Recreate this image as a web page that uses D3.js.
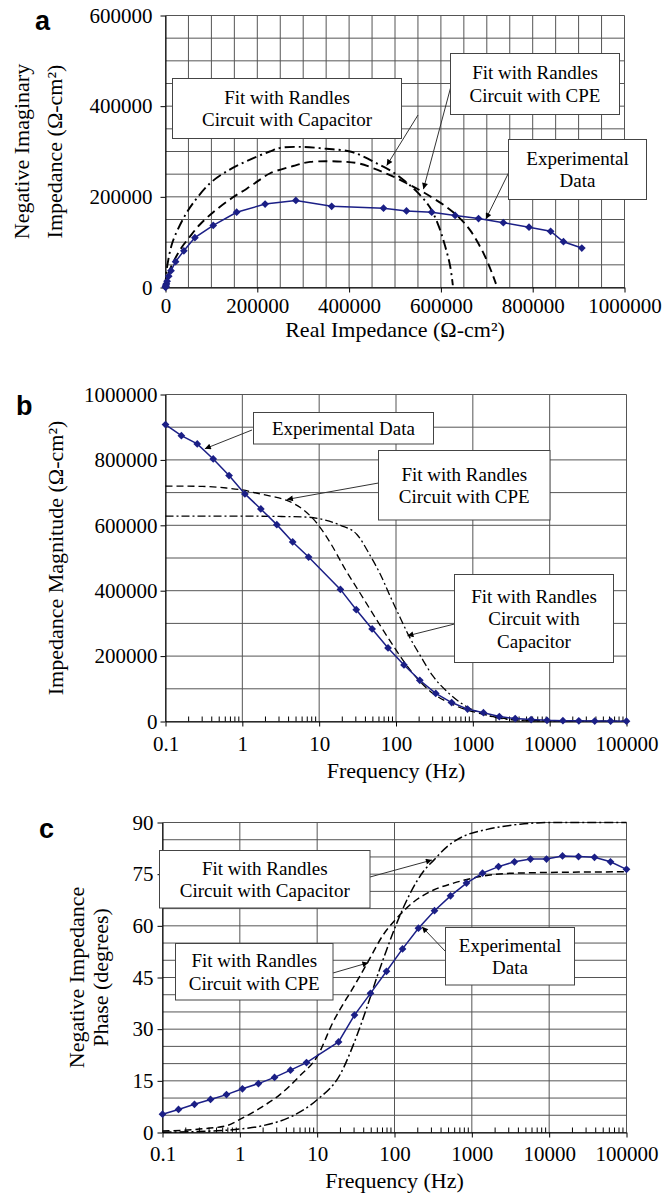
<!DOCTYPE html>
<html>
<head>
<meta charset="utf-8">
<script src="https://cdn.jsdelivr.net/npm/d3@7"></script>
<style>
  body { margin: 0; background: #fff; overflow: hidden; }
  svg text { font-family: 'Liberation Serif', 'Times New Roman', Times, serif; }
  svg text.letter { font-family: 'Liberation Sans', Arial, sans-serif; font-weight: bold; }
</style>
</head>
<body>
<svg id="chart" width="664" height="1194"></svg>
<script>
// ---- values ----

// measured frequencies (the run has no point near 11 Hz)
const freqHz = [0.1, 0.161, 0.259, 0.418, 0.672, 1.08, 1.74, 2.81, 4.52, 7.28,
  18.9, 30.4, 48.9, 78.8, 127, 204, 329, 530, 853, 1374,
  2212, 3562, 5736, 9237, 14874, 23950, 38566, 62102, 100000];

// experimental data, Nyquist (a)
const expReal = [907000, 867000, 839000, 792000, 736000, 682000, 631000, 580000, 525000, 475000,
  362000, 284000, 217000, 155000, 104000, 64000, 40000, 22000, 12000, 7000,
  3500, 2000, 1200, 700, 400, 300, 200, 200, 200];
const expImag = [87000, 101000, 124000, 133000, 143000, 152000, 159000, 166000, 169000, 175000,
  179000, 192000, 184000, 166000, 137000, 110000, 81000, 57000, 37000, 25000,
  14000, 8500, 6000, 3500, 2400, 1800, 1300, 1000, 800];

// experimental data, Bode (b, c)
const expMag = [908000, 874000, 849000, 803000, 752000, 696000, 650000, 602000, 549000, 503000,
  404000, 342000, 283000, 225000, 173000, 126000, 86000, 58000, 38000, 27000,
  15000, 9000, 6000, 3500, 2500, 2000, 1500, 1200, 1000];
const expPhase = [5.3, 6.7, 8.2, 9.6, 11.0, 12.7, 14.2, 16.0, 18.1, 20.3,
  26.3, 34.1, 40.4, 46.8, 53.3, 59.3, 64.4, 68.7, 72.4, 75.3,
  77.2, 78.6, 79.4, 79.4, 80.3, 80.1, 79.9, 78.6, 76.4];

// fit with Randles circuit with capacitor
const capReal = [0, 1000, 5000, 16000, 42000, 60000, 96000, 133000, 177000, 227000, 250000, 300000,
  351000, 402000, 431000, 460000, 490000, 520000, 547000, 576000, 595000, 609000, 620000, 626000];
const capImag = [0, 23000, 55000, 102000, 158000, 186000, 229000, 256000, 279000, 300000, 308000, 310000,
  306000, 300000, 289000, 274000, 258000, 236000, 212000, 177000, 136000, 92000, 48000, 5000];
const capMagFreq = [0.1, 1, 3, 7, 12, 19, 31, 46, 62, 84, 113, 145, 210, 300, 460, 760, 1500, 3400, 10000, 100000];
const capMag = [628000, 628000, 627000, 625000, 616000, 600000, 572000, 508000, 452000, 383000,
  318000, 265000, 199000, 140000, 92000, 51000, 20000, 5000, 1500, 500];
const capPhaseFreq = [0.1, 0.5, 1, 2, 5, 10, 20, 30, 45, 59, 79, 108, 160, 240, 320, 480, 780, 1580, 4200, 10000, 100000];
const capPhase = [0.1, 0.5, 1, 2, 5, 9.5, 17, 26, 37, 45, 53, 61, 69.5, 76, 79, 83, 86, 88, 89.5, 90, 90];

// fit with Randles circuit with CPE
const cpeReal = [0, 6000, 31000, 53000, 75000, 104000, 147000, 177000, 206000, 228000, 278000, 315000,
  395000, 424000, 453000, 489000, 525000, 562000, 613000, 642000, 664000, 686000, 700000, 712000, 720000];
const cpeImag = [0, 30000, 82000, 112000, 139000, 166000, 199000, 218000, 238000, 252000, 268000, 277000,
  277000, 273000, 263000, 248000, 230000, 210000, 177000, 152000, 126000, 89000, 60000, 30000, 8000];
const cpeMagFreq = [0.1, 0.3, 0.62, 1, 1.7, 2.5, 3.8, 6.2, 9.3, 14, 22, 34, 56, 93, 150, 200, 280, 560, 1260, 3400, 10000, 100000];
const cpeMag = [720000, 719000, 714000, 708000, 696000, 688000, 676000, 648000, 607000, 546000, 464000,
  393000, 311000, 230000, 160000, 125000, 92000, 51000, 24000, 6000, 2000, 1000];
const cpePhaseFreq = [0.1, 0.3, 0.68, 1, 1.8, 3.3, 6, 10, 16, 30, 44, 72, 102, 178, 320, 580, 1290, 3470, 100000];
const cpePhase = [0.4, 1, 2, 3.8, 7, 11, 16.5, 22, 32, 42.5, 49, 57.5, 61.7, 67, 70.4, 72.4, 74.3, 75.3, 75.7];

// tick labels
const realTicks = [0, 200000, 400000, 600000, 800000, 1000000];
const imagTicks = [0, 200000, 400000, 600000];
const freqTicks = [0.1, 1, 10, 100, 1000, 10000, 100000];
const magTicks = [0, 200000, 400000, 600000, 800000, 1000000];
const phaseTicks = [0, 15, 30, 45, 60, 75, 90];

const seriesNames = {
  cap: ['Fit with Randles', 'Circuit with Capacitor'],
  cpe: ['Fit with Randles', 'Circuit with CPE'],
  exp: ['Experimental', 'Data']
};

// ---- drawing ----
const navy = '#1b1f86';
const gridColor = '#555';

const svg = d3.select('#chart');

svg.append('defs').append('marker')
  .attr('id', 'arrow')
  .attr('viewBox', '0 0 10 10')
  .attr('refX', 10).attr('refY', 5)
  .attr('markerUnits', 'userSpaceOnUse')
  .attr('markerWidth', 8).attr('markerHeight', 6)
  .attr('orient', 'auto')
  .append('path')
  .attr('d', 'M0,0L10,5L0,10z')
  .attr('fill', '#000');

const zip = (xs, ys) => xs.map((v, i) => [v, ys[i]]);
const fmt = d => d < 1 ? String(d) : d3.format('d')(d);

function drawPanel(p) {
  const g = svg.append('g');
  const [xa, xb] = p.x.range();
  const [yb, yt] = p.y.range();

  // grid
  g.append('g').selectAll('line').data(p.xGrid).join('line')
    .attr('x1', d => p.x(d)).attr('x2', d => p.x(d))
    .attr('y1', yt).attr('y2', yb)
    .attr('stroke', gridColor).attr('stroke-width', 1);
  g.append('g').selectAll('line').data(p.yGrid).join('line')
    .attr('x1', xa).attr('x2', xb)
    .attr('y1', d => p.y(d)).attr('y2', d => p.y(d))
    .attr('stroke', gridColor).attr('stroke-width', 1);

  // small log ticks along the bottom, pointing inward
  if (p.minor) {
    const minor = [];
    freqTicks.slice(0, -1).forEach(dec => d3.range(2, 10).forEach(m => minor.push(dec * m)));
    g.append('g').selectAll('line').data(minor).join('line')
      .attr('x1', d => p.x(d)).attr('x2', d => p.x(d))
      .attr('y1', yb).attr('y2', yb - 5)
      .attr('stroke', '#000');
  }

  // axes
  const xAxis = g.append('g')
    .attr('transform', `translate(0,${yb})`)
    .call(d3.axisBottom(p.x).tickValues(p.xTicks).tickFormat(fmt)
      .tickSize(5).tickPadding(p.xPad).tickSizeOuter(0));
  const yAxis = g.append('g')
    .attr('transform', `translate(${xa},0)`)
    .call(d3.axisLeft(p.y).tickValues(p.yTicks).tickFormat(fmt)
      .tickSize(5).tickPadding(p.yPad).tickSizeOuter(0));
  [xAxis, yAxis].forEach(a => {
    a.attr('font-family', null).attr('font-size', 21);
    a.selectAll('text').attr('fill', '#000');
    a.selectAll('line, path').attr('stroke', '#000');
  });

  // series
  p.series.forEach(s => {
    const pts = zip(s.x, s.y);
    g.append('path').datum(pts)
      .attr('d', d3.line().x(d => p.x(d[0])).y(d => p.y(d[1])).curve(s.curve))
      .attr('fill', 'none')
      .attr('stroke', s.color)
      .attr('stroke-width', s.width)
      .attr('stroke-dasharray', s.dash);
    if (s.markers) {
      g.append('g').selectAll('path').data(pts).join('path')
        .attr('d', d3.symbol(d3.symbolSquare, 30))
        .attr('transform', d => `translate(${p.x(d[0])},${p.y(d[1])}) rotate(45)`)
        .attr('fill', s.color);
    }
  });

  // callouts
  p.notes.forEach(n => {
    const [bx, by, bw, bh] = n.box;
    g.append('line')
      .attr('x1', n.from[0]).attr('y1', n.from[1])
      .attr('x2', p.x(n.to[0])).attr('y2', p.y(n.to[1]))
      .attr('stroke', '#333').attr('stroke-width', 1)
      .attr('marker-end', 'url(#arrow)');
    g.append('rect')
      .attr('x', bx).attr('y', by).attr('width', bw).attr('height', bh)
      .attr('fill', '#fff').attr('stroke', '#444').attr('stroke-width', 1);
    const step = 22.5;
    const top = by + bh / 2 - (n.lines.length - 1) * step / 2;
    g.append('text')
      .attr('font-size', 19)
      .attr('text-anchor', 'middle')
      .selectAll('tspan').data(n.lines).join('tspan')
      .attr('x', bx + bw / 2)
      .attr('y', (d, i) => top + i * step + 6.5)
      .text(d => d);
  });

  // titles
  g.append('text')
    .attr('x', (xa + xb) / 2).attr('y', p.xTitleY)
    .attr('text-anchor', 'middle')
    .attr('font-size', 22)
    .text(p.xTitle);
  p.yTitle.forEach((t, i) => {
    g.append('text')
      .attr('transform', `translate(${p.yTitleX[i]},${(yb + yt) / 2}) rotate(-90)`)
      .attr('text-anchor', 'middle')
      .attr('font-size', 22)
      .text(t);
  });
  g.append('text')
    .attr('class', 'letter')
    .attr('x', p.letter[0]).attr('y', p.letter[1])
    .attr('font-size', 27)
    .text(p.name);
}

// a: Nyquist
const xA = d3.scaleLinear().domain([0, 1000000]).range([165.5, 624.5]);
const yA = d3.scaleLinear().domain([0, 600000]).range([287.5, 15.5]);
drawPanel({
  name: 'a', letter: [35, 30],
  x: xA, y: yA,
  xGrid: d3.range(0, 1000001, 50000), yGrid: d3.range(0, 600001, 50000),
  xTicks: realTicks, yTicks: imagTicks, xPad: 6, yPad: 8,
  xTitle: 'Real Impedance (Ω-cm²)', xTitleY: 337,
  yTitle: ['Negative Imaginary', 'Impedance (Ω-cm²)'], yTitleX: [29, 62],
  series: [
    { x: capReal, y: capImag, color: '#000', width: 1.9, dash: '10,4,2,4', curve: d3.curveCatmullRom },
    { x: cpeReal, y: cpeImag, color: '#000', width: 1.9, dash: '9,5', curve: d3.curveCatmullRom },
    { x: expReal, y: expImag, color: navy, width: 1.5, curve: d3.curveLinear, markers: true }
  ],
  notes: [
    { lines: seriesNames.cap, box: [172.5, 78.5, 229, 60], from: [418, 115], to: [482000, 269000] },
    { lines: seriesNames.cpe, box: [450.5, 53.5, 169, 61], from: [450.5, 88], to: [562000, 217000] },
    { lines: seriesNames.exp, box: [508.5, 139.5, 138, 60], from: [508.5, 173], to: [698000, 151000] }
  ]
});

// b: impedance magnitude
const xB = d3.scaleLog().domain([0.1, 100000]).range([165.5, 626.5]);
const yB = d3.scaleLinear().domain([0, 1000000]).range([721.5, 394.5]);
drawPanel({
  name: 'b', letter: [16, 415],
  x: xB, y: yB, minor: true,
  xGrid: freqTicks, yGrid: d3.range(0, 1000001, 100000),
  xTicks: freqTicks, yTicks: magTicks, xPad: 10, yPad: 3,
  xTitle: 'Frequency (Hz)', xTitleY: 778,
  yTitle: ['Impedance Magnitude (Ω-cm²)'], yTitleX: [63],
  series: [
    { x: capMagFreq, y: capMag, color: '#000', width: 1.3, dash: '8,3,2,3', curve: d3.curveMonotoneX },
    { x: cpeMagFreq, y: cpeMag, color: '#000', width: 1.3, dash: '7,4', curve: d3.curveMonotoneX },
    { x: freqHz, y: expMag, color: navy, width: 1.5, curve: d3.curveLinear, markers: true }
  ],
  notes: [
    { lines: ['Experimental Data'], box: [253.5, 412.5, 180, 31.5], from: [252, 430], to: [0.325, 834000] },
    { lines: seriesNames.cpe, box: [378.5, 450.5, 171.5, 69.5], from: [378.5, 483], to: [3.8, 679000] },
    { lines: ['Fit with Randles', 'Circuit with', 'Capacitor'], box: [454.5, 574.5, 159, 88], from: [454.5, 624], to: [141, 262000] }
  ]
});

// c: phase
const xC = d3.scaleLog().domain([0.1, 100000]).range([162.5, 626.5]);
const yC = d3.scaleLinear().domain([0, 90]).range([1132.5, 822.5]);
drawPanel({
  name: 'c', letter: [39, 838],
  x: xC, y: yC, minor: true,
  xGrid: freqTicks, yGrid: d3.range(0, 91, 5),
  xTicks: freqTicks, yTicks: phaseTicks, xPad: 9, yPad: 4,
  xTitle: 'Frequency (Hz)', xTitleY: 1188,
  yTitle: ['Negative Impedance', 'Phase (degrees)'], yTitleX: [84, 108],
  series: [
    { x: capPhaseFreq, y: capPhase, color: '#000', width: 1.5, dash: '9,3,2,3', curve: d3.curveMonotoneX },
    { x: cpePhaseFreq, y: cpePhase, color: '#000', width: 1.5, dash: '7,4', curve: d3.curveMonotoneX },
    { x: freqHz, y: expPhase, color: navy, width: 1.5, curve: d3.curveLinear, markers: true }
  ],
  notes: [
    { lines: seriesNames.cap, box: [159.5, 850.5, 210.5, 57.5], from: [370, 877], to: [305, 79.1] },
    { lines: seriesNames.cpe, box: [175.5, 943.5, 157.5, 56.5], from: [333, 973], to: [46, 49.3] },
    { lines: seriesNames.exp, box: [445.5, 927.5, 129, 57.5], from: [445.5, 951.5], to: [227, 59.7] }
  ]
});
</script>
</body>
</html>
